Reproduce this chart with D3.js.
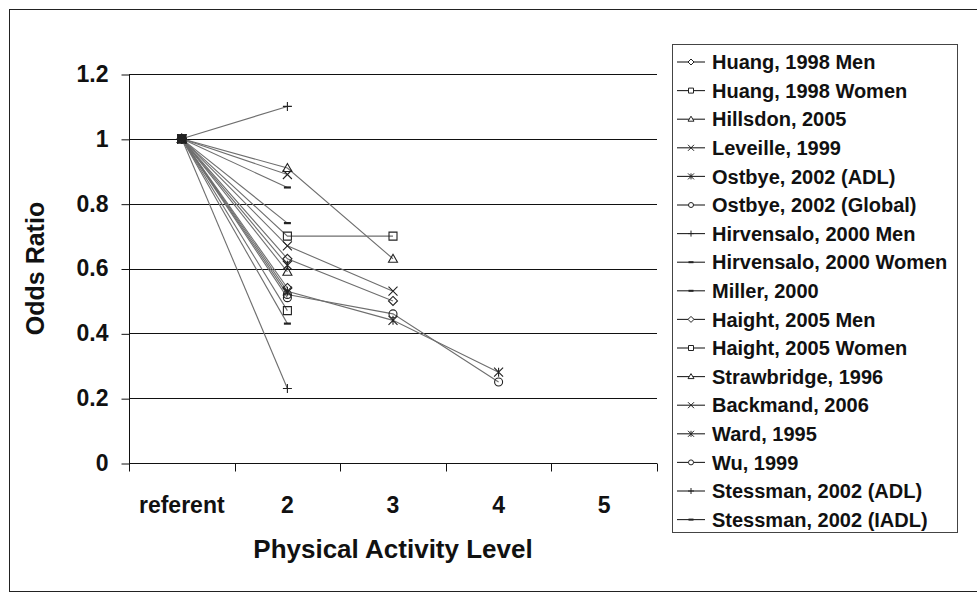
<!DOCTYPE html>
<html>
<head>
<meta charset="utf-8">
<script src="https://cdn.jsdelivr.net/npm/d3@7"></script>
<style>
  html, body { margin: 0; padding: 0; background: #fff; }
  svg { display: block; font-family: "Liberation Sans", Arial, sans-serif; font-weight: bold; }
</style>
</head>
<body>
<svg id="chart" width="977" height="594"></svg>
<script>
"use strict";
// Data
const categories = ["referent", "2", "3", "4", "5"];
const studies = [
  "Huang, 1998 Men",
  "Huang, 1998 Women",
  "Hillsdon, 2005",
  "Leveille, 1999",
  "Ostbye, 2002 (ADL)",
  "Ostbye, 2002 (Global)",
  "Hirvensalo, 2000 Men",
  "Hirvensalo, 2000 Women",
  "Miller, 2000",
  "Haight, 2005 Men",
  "Haight, 2005 Women",
  "Strawbridge, 1996",
  "Backmand, 2006",
  "Ward, 1995",
  "Wu, 1999",
  "Stessman, 2002 (ADL)",
  "Stessman, 2002 (IADL)",
];
const markerTypes = [
  "diamond", "square", "triangle", "x", "star", "circle", "plus", "dash",
  "dash", "diamond", "square", "triangle", "x", "star", "circle", "plus", "dash",
];
const oddsRatios = [
  [1, 0.63, 0.5],
  [1, 0.7, 0.7],
  [1, 0.91, 0.63],
  [1, 0.67, 0.53],
  [1, 0.53, 0.44, 0.28],
  [1, 0.52, 0.46, 0.25],
  [1, 1.1],
  [1, 0.74],
  [1, 0.85],
  [1, 0.54],
  [1, 0.47],
  [1, 0.59],
  [1, 0.89],
  [1, 0.61],
  [1, 0.51],
  [1, 0.23],
  [1, 0.43],
];
const yTicks = [0, 0.2, 0.4, 0.6, 0.8, 1, 1.2];

(function () {
  const svg = d3.select("#chart");
  const plot = { left: 129, right: 657, top: 74, bottom: 463 };

  const x = d3.scaleBand().domain(categories).range([plot.left, plot.right]);
  const y = d3.scaleLinear().domain([0, 1.2]).range([plot.bottom, plot.top]);

  // outer frame
  svg.append("rect")
    .attr("x", 9.5).attr("y", 9.5)
    .attr("width", 980).attr("height", 582)
    .attr("fill", "none").attr("stroke", "#222").attr("stroke-width", 1);

  // gridlines
  svg.append("g")
    .selectAll("line")
    .data(yTicks.filter((d) => d > 0))
    .join("line")
    .attr("x1", plot.left).attr("x2", plot.right)
    .attr("y1", (d) => Math.round(y(d)) + 0.5)
    .attr("y2", (d) => Math.round(y(d)) + 0.5)
    .attr("stroke", "#111");

  // y axis
  const yAxis = svg.append("g")
    .attr("transform", `translate(${plot.left + 0.5},0)`)
    .call(d3.axisLeft(y).tickValues(yTicks).tickFormat(d3.format("~g")).tickSize(8).tickPadding(13));
  yAxis.select(".domain").attr("stroke", "#111").attr("d", `M0,${plot.top}V${plot.bottom + 8}`);
  yAxis.selectAll(".tick line").attr("stroke", "#111").attr("transform", "translate(0,0.5)");
  yAxis.selectAll("text")
    .attr("font-size", 23).attr("font-weight", "bold").attr("fill", "#111")
    .attr("font-family", "Liberation Sans, Arial, sans-serif");

  // x axis: ticks sit on band boundaries
  const xg = svg.append("g").attr("transform", `translate(0,${Math.round(plot.bottom) + 0.5})`);
  xg.append("line")
    .attr("x1", plot.left).attr("x2", plot.right)
    .attr("stroke", "#111");
  const bounds = categories.map((c) => x(c)).concat([plot.right]);
  xg.selectAll(".xtick")
    .data(bounds)
    .join("line")
    .attr("class", "xtick")
    .attr("x1", (d) => Math.round(d) + 0.5).attr("x2", (d) => Math.round(d) + 0.5)
    .attr("y1", 0).attr("y2", 8)
    .attr("stroke", "#111");
  xg.selectAll(".xlabel")
    .data(categories)
    .join("text")
    .attr("class", "xlabel")
    .attr("x", (d) => x(d) + x.bandwidth() / 2)
    .attr("y", 49)
    .attr("text-anchor", "middle")
    .attr("font-size", 23)
    .attr("fill", "#111")
    .text((d) => d);

  // axis titles
  svg.append("text")
    .attr("x", (plot.left + plot.right) / 2)
    .attr("y", 558)
    .attr("text-anchor", "middle")
    .attr("font-size", 26)
    .attr("fill", "#111")
    .text("Physical Activity Level");
  svg.append("text")
    .attr("transform", `translate(44,${(plot.top + plot.bottom) / 2}) rotate(-90)`)
    .attr("text-anchor", "middle")
    .attr("font-size", 25)
    .attr("fill", "#111")
    .text("Odds Ratio");

  // marker paths, centred on 0,0
  function markerPath(type, s) {
    const h = s / 2;
    switch (type) {
      case "diamond":
        return `M0,${-h}L${h},0L0,${h}L${-h},0Z`;
      case "square":
        return `M${-h + 0.5},${-h + 0.5}H${h - 0.5}V${h - 0.5}H${-h + 0.5}Z`;
      case "triangle":
        return `M0,${-h}L${h},${h - 1}L${-h},${h - 1}Z`;
      case "x":
        return `M${-h},${-h}L${h},${h}M${h},${-h}L${-h},${h}`;
      case "star":
        return `M${-h},${-h}L${h},${h}M${h},${-h}L${-h},${h}M0,${-h}V${h}`;
      case "circle":
        return d3.arc()({ innerRadius: 0, outerRadius: h - 0.5, startAngle: 0, endAngle: 2 * Math.PI });
      case "plus":
        return `M${-h},0H${h}M0,${-h}V${h}`;
      case "dash":
        return `M${-h + 1},0H${h - 1}`;
    }
    return "";
  }

  const series = studies.map((name, i) => ({
    name,
    marker: markerTypes[i],
    values: oddsRatios[i].map((v, j) => ({ cat: categories[j], v })),
  }));

  const line = d3.line()
    .x((d) => x(d.cat) + x.bandwidth() / 2)
    .y((d) => y(d.v));

  svg.append("g")
    .selectAll("path.series")
    .data(series)
    .join("path")
    .attr("class", "series")
    .attr("d", (d) => line(d.values))
    .attr("fill", "none")
    .attr("stroke", "#6e6e6e")
    .attr("stroke-width", 1.1);

  const gMarks = svg.append("g");
  series.forEach((s) => {
    gMarks.selectAll(null)
      .data(s.values)
      .join("path")
      .attr("transform", (d) => `translate(${x(d.cat) + x.bandwidth() / 2},${y(d.v)})`)
      .attr("d", markerPath(s.marker, 9))
      .attr("fill", "none")
      .attr("stroke", "#222")
      .attr("stroke-width", s.marker === "dash" ? 2.2 : 1.1);
  });

  // legend
  const legend = { x: 672, y: 44, w: 285, h: 488, row: 28.6, first: 62 };
  const lg = svg.append("g");
  lg.append("rect")
    .attr("x", legend.x + 0.5).attr("y", legend.y + 0.5)
    .attr("width", legend.w).attr("height", legend.h)
    .attr("fill", "#fff").attr("stroke", "#444");
  const items = lg.selectAll("g.item")
    .data(series)
    .join("g")
    .attr("class", "item")
    .attr("transform", (d, i) => `translate(${legend.x},${legend.first + i * legend.row})`);
  items.append("line")
    .attr("x1", 5).attr("x2", 33)
    .attr("stroke", "#222").attr("stroke-width", 1.1);
  items.append("path")
    .attr("transform", "translate(19,0)")
    .attr("d", (d) => markerPath(d.marker, d.marker === "dash" ? 7 : 6))
    .attr("fill", "#fff")
    .attr("stroke", "#222")
    .attr("stroke-width", (d) => (d.marker === "dash" ? 2 : 1));
  items.append("text")
    .attr("x", 40)
    .attr("dy", "0.36em")
    .attr("font-size", 20)
    .attr("fill", "#111")
    .text((d) => d.name);
})();
</script>
</body>
</html>
